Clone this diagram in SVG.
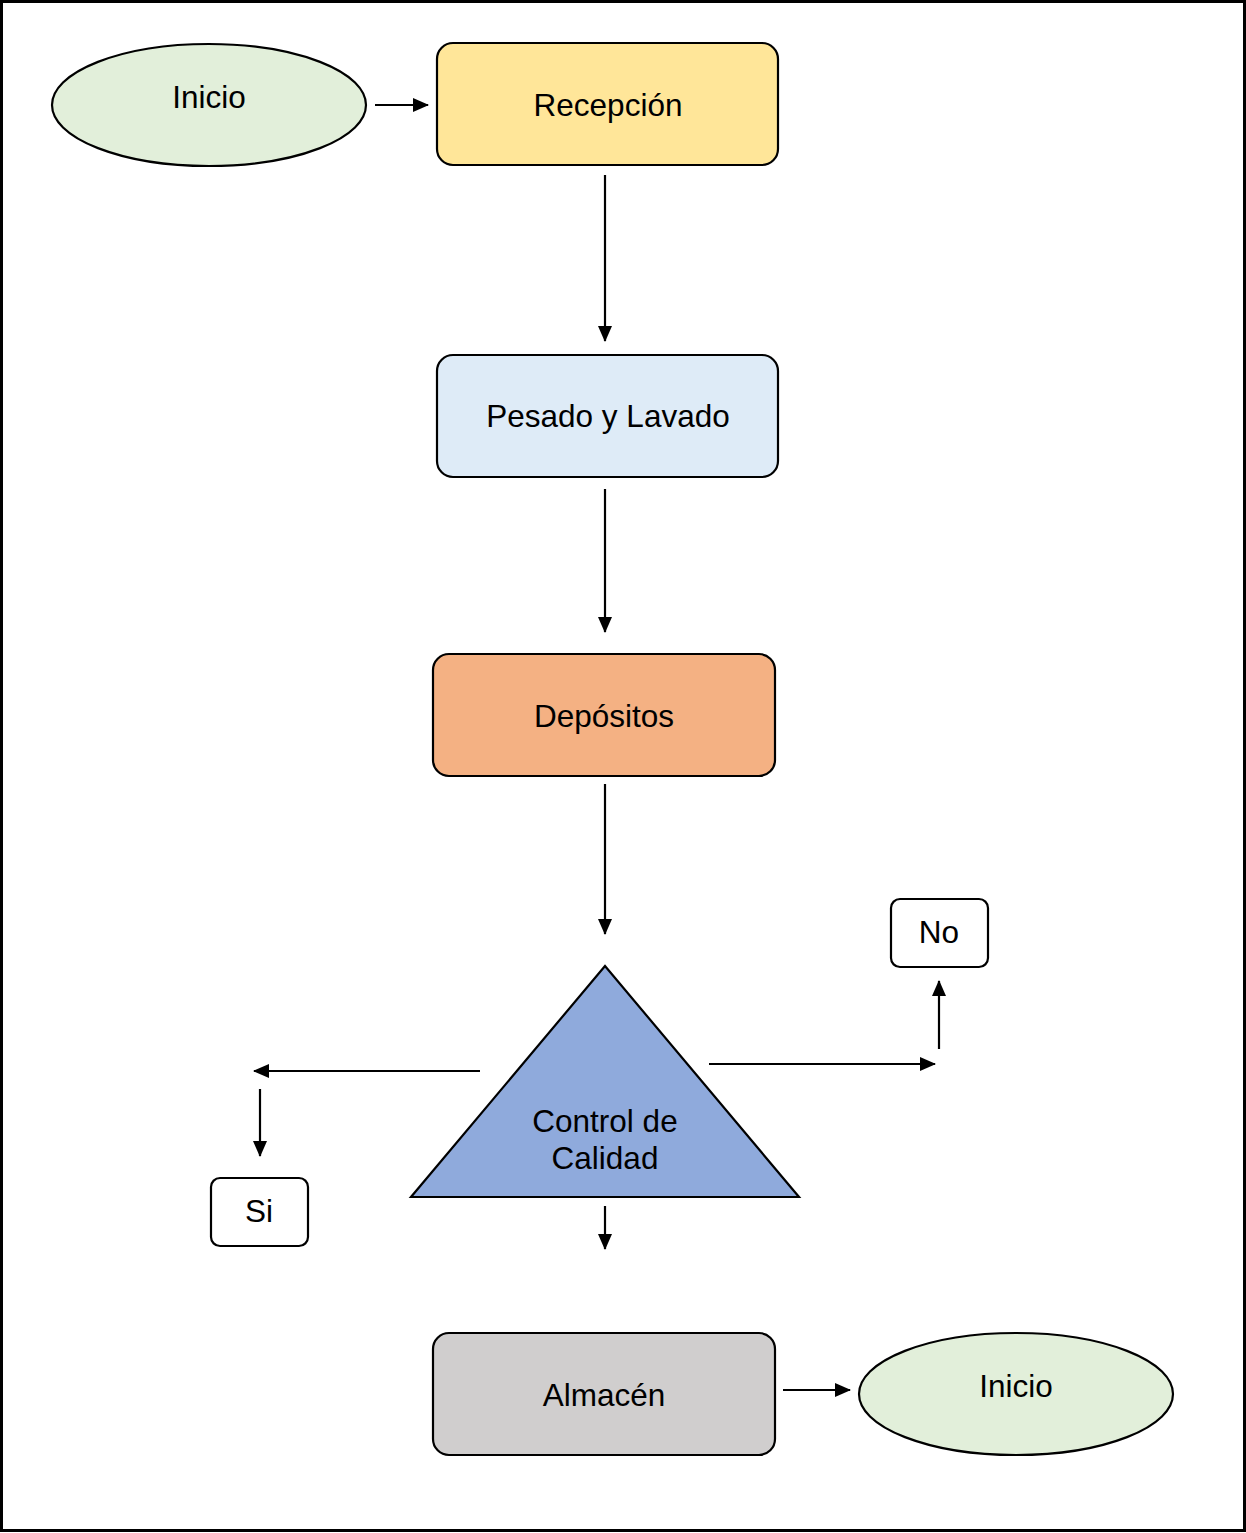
<svg xmlns="http://www.w3.org/2000/svg" width="1246" height="1533" viewBox="0 0 1246 1533">
<defs>
<marker id="ah2" markerWidth="16" markerHeight="14" refX="15" refY="7" orient="auto" markerUnits="userSpaceOnUse" viewBox="0 0 16 14"><path d="M0,0 L16,7 L0,14 z" fill="#000"/></marker>
<style>
.t{font-family:"Liberation Sans",Arial,sans-serif;font-size:31.5px;fill:#000;text-anchor:middle;dominant-baseline:central}
.n{stroke:#000;stroke-width:2.2}
.l{stroke:#000;stroke-width:2.2;fill:none;marker-end:url(#ah2)}
</style>
</defs>
<rect x="1.5" y="1.5" width="1243" height="1529" fill="#fff" stroke="#000" stroke-width="3"/>
<g id="inicio1"><ellipse class="n" cx="209" cy="105" rx="157" ry="61" fill="#E2EFDA"/><text class="t" x="209" y="97">Inicio</text></g>
<g id="recepcion"><rect class="n" x="437" y="43" width="341" height="122" rx="16" fill="#FFE699"/><text class="t" x="608" y="105">Recepción</text></g>
<g id="pesado"><rect class="n" x="437" y="355" width="341" height="122" rx="16" fill="#DEEBF7"/><text class="t" x="608" y="416">Pesado y Lavado</text></g>
<g id="depositos"><rect class="n" x="433" y="654" width="342" height="122" rx="16" fill="#F4B183"/><text class="t" x="604" y="716">Depósitos</text></g>
<g id="control"><polygon class="n" points="605,966 411,1197 799,1197" fill="#8FAADC"/><text class="t" x="605" y="1121">Control de</text><text class="t" x="605" y="1158">Calidad</text></g>
<g id="si"><rect class="n" x="211" y="1178" width="97" height="68" rx="9" fill="#fff"/><text class="t" x="259" y="1211">Si</text></g>
<g id="no"><rect class="n" x="891" y="899" width="97" height="68" rx="9" fill="#fff"/><text class="t" x="939" y="932">No</text></g>
<g id="almacen"><rect class="n" x="433" y="1333" width="342" height="122" rx="16" fill="#D0CECE"/><text class="t" x="604" y="1395">Almacén</text></g>
<g id="inicio2"><ellipse class="n" cx="1016" cy="1394" rx="157" ry="61" fill="#E2EFDA"/><text class="t" x="1016" y="1386">Inicio</text></g>
<g id="connectors">
<line class="l" x1="375" y1="105" x2="428" y2="105"/>
<line class="l" x1="605" y1="175" x2="605" y2="341"/>
<line class="l" x1="605" y1="489" x2="605" y2="632"/>
<line class="l" x1="605" y1="784" x2="605" y2="934"/>
<line class="l" x1="480" y1="1071" x2="254" y2="1071"/>
<line class="l" x1="260" y1="1089" x2="260" y2="1156"/>
<line class="l" x1="709" y1="1064" x2="935" y2="1064"/>
<line class="l" x1="939" y1="1049" x2="939" y2="981"/>
<line class="l" x1="605" y1="1206" x2="605" y2="1249"/>
<line class="l" x1="783" y1="1390" x2="850" y2="1390"/>
</g>
</svg>
